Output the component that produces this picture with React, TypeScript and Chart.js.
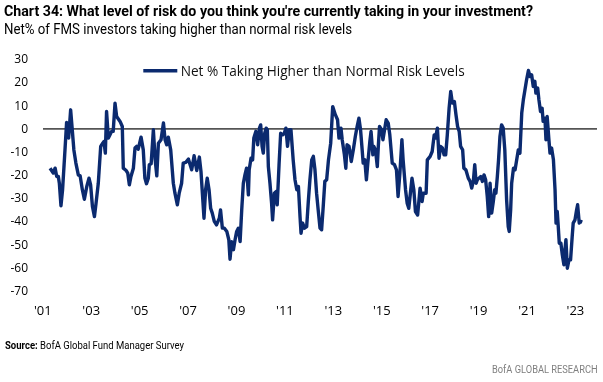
import React, { useEffect, useLayoutEffect, useRef } from "react";
import { Chart, registerables } from "chart.js";

Chart.register(...registerables);

// ---- data (months since Jan 2001) ----
const monthsSince2001 = [
  3.6, 5.2, 6.1, 6.9, 7.7, 8.2, 9.0, 9.8, 11.0, 11.8, 12.8, 13.8, 14.6, 15.4, 16.4, 17.6, 18.5, 19.6, 20.6, 21.8,
  22.9, 23.7, 24.6, 25.6, 26.4, 27.5, 28.7, 29.7, 30.3, 31.0, 31.6, 32.5, 33.3, 34.1, 34.9, 35.8, 36.6, 38.3, 39.4, 39.9,
  41.3, 42.1, 42.9, 43.7, 44.9, 45.7, 46.5, 47.3, 48.7, 49.8, 50.6, 51.4, 52.3, 52.8, 53.7, 54.8, 55.7, 56.5, 57.3, 58.6,
  59.8, 60.6, 61.4, 62.2, 63.4, 64.7, 65.5, 66.7, 67.6, 68.8, 69.6, 70.9, 72.2, 73.8, 75.0, 76.3, 77.6, 78.4, 79.2, 79.9,
  80.7, 81.5, 82.4, 83.2, 84.0, 85.0, 86.1, 87.5, 88.1, 89.0, 90.0, 91.2, 92.2, 92.8, 93.6, 94.5, 95.3, 96.1, 96.9, 97.8,
  98.6, 99.4, 100.2, 101.0, 101.9, 102.3, 103.2, 104.0, 104.6, 105.6, 106.5, 107.4, 108.0, 108.7, 109.3, 110.0, 110.7, 111.3, 111.8, 112.6,
  113.4, 113.9, 114.8, 115.6, 116.2, 117.1, 117.9, 118.9, 119.7, 120.5, 121.3, 122.2, 123.0, 124.1, 125.0, 125.9, 126.7, 127.5, 128.0, 128.8,
  129.7, 130.8, 131.6, 132.4, 133.3, 134.1, 134.9, 135.7, 136.5, 137.4, 138.2, 139.0, 139.8, 140.7, 141.6, 142.7, 143.7, 145.0, 146.1, 146.8,
  147.8, 148.4, 149.5, 150.2, 150.8, 151.8, 152.9, 153.9, 154.9, 155.8, 156.7, 157.5, 158.3, 158.8, 159.6, 160.4, 161.1, 162.1, 162.7, 163.6,
  164.1, 164.9, 165.8, 166.3, 166.9, 167.9, 168.6, 169.4, 170.2, 171.2, 172.0, 173.2, 174.3, 175.3, 176.1, 177.0, 178.0, 178.6, 179.8, 180.6,
  181.4, 182.2, 183.0, 183.9, 184.7, 185.8, 187.0, 188.0, 188.6, 190.0, 190.6, 192.0, 193.0, 194.0, 194.6, 195.6, 196.4, 197.2, 198.1, 198.9,
  199.7, 200.5, 201.4, 202.2, 203.0, 204.0, 204.8, 205.6, 206.4, 207.1, 208.1, 208.7, 209.7, 210.9, 211.8, 212.6, 213.4, 214.1, 214.8, 215.4,
  216.2, 217.1, 217.9, 218.7, 219.5, 220.3, 221.0, 221.7, 222.5, 223.3, 224.0, 224.6, 225.3, 225.9, 226.6, 227.4, 228.2, 229.0, 229.9, 230.7,
  231.2, 231.9, 232.4, 233.3, 234.1, 234.9, 235.7, 236.5, 237.4, 238.2, 239.0, 239.8, 240.7, 241.5, 242.3, 243.1, 243.9, 244.4, 245.3, 245.9,
  246.7, 247.5, 248.0, 248.9, 249.4, 250.0, 250.8, 251.4, 252.2, 253.1, 253.9, 254.4, 255.0, 255.5, 256.0, 256.8, 257.5, 258.3, 258.8, 259.3,
  260.0, 260.8, 261.6, 262.4, 262.9, 263.8, 264.6, 265.1, 265.9, 266.5, 267.4,
];

const netRiskPct = [
  -16.8, -18.9, -16.8, -20.4, -20.4, -23.3, -33.0, -26.1, -8.9, 3.0, -3.8, 8.4, -0.2, -8.9, -14.6, -19.7, -20.1, -26.1, -30.2, -24.7,
  -21.1, -24.0, -33.3, -37.7, -31.9, -23.3, -7.4, -6.0, -5.3, -10.3, 7.7, -3.8, -2.4, -0.9, -0.9, 11.3, 5.5, 3.4, 1.2, -16.8,
  -17.8, -18.9, -24.0, -20.4, -16.8, -8.1, -7.4, -8.6, -3.4, -8.9, -21.1, -23.5, -21.1, -15.3, -14.9, -0.2, -13.2, -20.1, -6.0, -4.5,
  2.7, -4.5, -6.7, -3.4, -8.9, -23.3, -27.6, -32.6, -27.6, -23.3, -14.6, -14.3, -12.9, -17.5, -11.4, -17.8, -12.0, -18.2, -29.0, -38.4,
  -26.1, -21.1, -26.1, -34.1, -36.2, -39.8, -41.3, -38.4, -34.8, -42.7, -42.7, -44.1, -47.7, -56.1, -48.5, -52.0, -47.7, -44.1, -42.7, -48.5,
  -34.8, -23.3, -19.7, -16.8, -28.3, -17.5, -12.5, -13.2, -3.8, -0.9, -6.7, 0.5, 1.9, -7.4, -10.3, -1.7, 0.5, -0.2, -16.1, -23.3,
  -31.9, -39.1, -27.6, -26.9, -32.6, -15.3, -1.7, -2.4, -1.7, 0.5, -7.4, -0.2, -0.2, -13.2, -21.8, -26.1, -24.7, -37.7, -44.9, -40.5,
  -42.7, -42.0, -31.2, -21.8, -13.2, -11.7, -17.5, -27.6, -34.8, -42.7, -43.4, -33.3, -22.5, -21.8, -13.2, -6.0, 9.8, 6.3, 4.1, -3.8,
  0.5, -4.5, -11.0, -16.8, -6.7, -7.4, -13.9, -8.9, -3.1, 1.2, 4.8, -0.2, -8.9, -14.6, -13.2, -21.8, -14.6, -5.3, -0.9, -11.0,
  -7.4, -8.9, -16.1, -7.4, 1.2, -0.2, -4.5, -0.2, 4.1, 2.7, -2.4, -14.6, -15.3, -17.5, -29.0, -18.9, -4.5, -13.2, -26.1, -31.9,
  -34.1, -27.6, -21.1, -26.1, -35.5, -37.0, -25.4, -31.2, -27.6, -27.6, -13.2, -11.7, -9.6, -2.4, -3.8, 0.5, -12.5, -7.4, -8.1, -11.0,
  -11.0, -2.4, 9.1, 16.3, 11.3, 12.0, 6.3, 1.2, -0.9, -7.4, -8.9, -16.8, -17.5, -21.1, -22.5, -25.4, -22.5, -15.3, -23.3, -21.8,
  -21.1, -20.4, -22.5, -19.7, -21.8, -29.0, -37.7, -23.3, -36.2, -31.2, -26.1, -27.6, -20.4, -13.2, -3.1, 1.9, 0.5, -8.9, -30.5, -42.0,
  -44.1, -34.8, -23.3, -16.8, -17.5, -13.2, -8.9, -10.3, 7.0, 12.8, 17.1, 21.4, 25.4, 22.8, 23.5, 18.5, 20.7, 15.6, 17.8, 12.8,
  7.7, 9.1, 3.4, 4.8, -4.5, 5.5, -3.8, -10.3, -8.1, -13.2, -26.1, -40.5, -35.5, -42.0, -49.2, -49.2, -54.2, -58.5, -52.1, -47.7,
  -60.0, -56.4, -56.4, -46.3, -40.5, -39.1, -34.8, -32.6, -40.5, -39.8, -40.1,
];

const seriesLabel = "Net % Taking Higher than Normal Risk Levels";
const xTickMonths = [0, 24, 48, 72, 96, 120, 144, 168, 192, 216, 240, 264];
const xTickLabels = ["'01", "'03", "'05", "'07", "'09", "'11", "'13", "'15", "'17", "'19", "'21", "'23"];
const yTickValues = [30, 20, 10, 0, -10, -20, -30, -40, -50, -60, -70];

const titleText = "Chart 34: What level of risk do you think you're currently taking in your investment?";
const subtitleText = "Net% of FMS investors taking higher than normal risk levels";
const sourceLabel = "Source:";
const sourceText = "BofA Global Fund Manager Survey";
const brandText = "BofA GLOBAL RESEARCH";

const NAVY = "#0b2a6f";

function FitText(props: { width: number; style: React.CSSProperties; children: React.ReactNode }) {
  const ref = useRef<HTMLSpanElement>(null);
  useLayoutEffect(() => {
    const el = ref.current;
    if (!el) return;
    el.style.transform = "none";
    const w = el.getBoundingClientRect().width;
    if (w > 0) el.style.transform = `scaleX(${props.width / w})`;
  });
  return (
    <span
      ref={ref}
      style={{
        position: "absolute",
        display: "inline-block",
        whiteSpace: "nowrap",
        transformOrigin: "0 0",
        lineHeight: 1,
        ...props.style,
      }}
    >
      {props.children}
    </span>
  );
}

const legendPlugin = {
  id: "insideLegend",
  afterDraw(chart: any) {
    const ctx = chart.ctx;
    const ds = chart.data.datasets[0];
    const ca = chart.chartArea;
    const x0 = ca.left + 100.6;
    const y0 = ca.top + 10.9;
    ctx.save();
    ctx.strokeStyle = ds.borderColor;
    ctx.lineWidth = 3.5;
    ctx.lineCap = "butt";
    ctx.beginPath();
    ctx.moveTo(x0, y0);
    ctx.lineTo(x0 + 34, y0);
    ctx.stroke();
    ctx.font = '14px "Open Sans"';
    ctx.fillStyle = "#111";
    ctx.textBaseline = "alphabetic";
    const tw = ctx.measureText(ds.label).width;
    const target = 284;
    ctx.translate(x0 + 37.4, y0 + 4.8);
    ctx.scale(target / tw, 1);
    ctx.fillText(ds.label, 0, 0);
    ctx.restore();
  },
};

export default function App() {
  const canvasRef = useRef<HTMLCanvasElement>(null);

  useEffect(() => {
    document.body.style.margin = "0";
    const canvas = canvasRef.current;
    if (!canvas) return;
    const chart = new Chart(canvas, {
      type: "line",
      data: {
        datasets: [
          {
            label: seriesLabel,
            data: monthsSince2001.map((m, i) => ({ x: m, y: netRiskPct[i] })),
            borderColor: NAVY,
            backgroundColor: NAVY,
            borderWidth: 3.4,
            pointRadius: 0,
            tension: 0,
            borderJoinStyle: "round",
          },
        ],
      },
      options: {
        animation: false,
        responsive: false,
        maintainAspectRatio: false,
        layout: { padding: { top: 59.8, left: 0, right: 6, bottom: 382 - 291.4 - 30 } },
        plugins: { legend: { display: false }, title: { display: false }, tooltip: { enabled: false } },
        scales: {
          x: {
            type: "linear",
            min: -0.05,
            max: 274.7,
            border: { display: false },
            grid: { display: false, drawTicks: false },
            afterBuildTicks: (scale: any) => {
              scale.ticks = xTickMonths.map((v) => ({ value: v }));
            },
            afterFit: (scale: any) => {
              scale.height = 30;
            },
            ticks: {
              autoSkip: false,
              maxRotation: 0,
              padding: 12,
              color: "#000",
              font: { family: '"Open Sans"', size: 13 },
              callback: (_v: any, i: number) => xTickLabels[i],
            },
          },
          y: {
            min: -70,
            max: 30,
            border: { display: false },
            afterBuildTicks: (scale: any) => {
              scale.ticks = yTickValues.map((v) => ({ value: v }));
            },
            afterFit: (scale: any) => {
              scale.width = 42.7;
            },
            grid: {
              drawTicks: false,
              lineWidth: 1.8,
              color: (c: any) => (c.tick && c.tick.value === 0 ? "#555555" : "rgba(0,0,0,0)"),
            },
            ticks: {
              padding: 14.7,
              color: "#000",
              font: { family: '"Open Sans"', size: 12 },
              callback: (v: any) => String(v),
            },
          },
        },
      },
      plugins: [legendPlugin],
    } as any);
    return () => chart.destroy();
  }, []);

  return (
    <div style={{ position: "relative", width: 603, height: 382, overflow: "hidden", background: "#fff" }}>
      <canvas ref={canvasRef} width={603} height={382} style={{ position: "absolute", left: 0, top: 0, width: 603, height: 382 }} />
      <FitText width={529} style={{ left: 4, top: 4.2, fontFamily: "Roboto", fontWeight: 700, fontSize: 14, color: "#000" }}>
        {titleText}
      </FitText>
      <FitText width={348} style={{ left: 4, top: 21.5, fontFamily: "Roboto", fontWeight: 400, fontSize: 14, color: "#000" }}>
        {subtitleText}
      </FitText>
      <FitText width={179} style={{ left: 5, top: 340.3, fontFamily: "Roboto", fontSize: 11.5, color: "#000" }}>
        <span style={{ fontWeight: 700 }}>{sourceLabel}</span>
        <span>{"  " + sourceText}</span>
      </FitText>
      <FitText width={105.6} style={{ left: 491.7, top: 365.2, fontFamily: "Roboto", fontSize: 10.5, color: "#808080" }}>
        {brandText}
      </FitText>
    </div>
  );
}
